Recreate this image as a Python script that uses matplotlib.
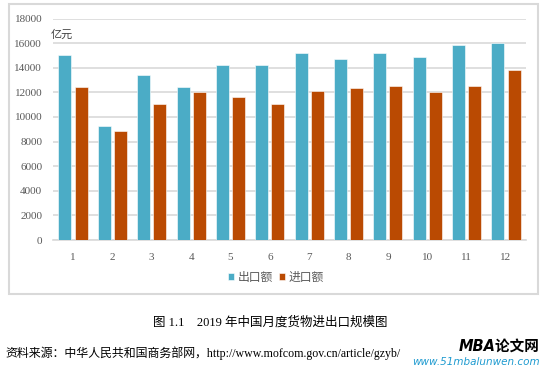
import matplotlib
matplotlib.use("Agg")
import matplotlib.pyplot as plt
from matplotlib.patches import Rectangle
import numpy as np

# 数据 (亿元)
months = ["1", "2", "3", "4", "5", "6", "7", "8", "9", "10", "11", "12"]
exports = [15040, 9270, 13410, 12410, 14230, 14230, 15200, 14710, 15200, 14880, 15850, 16020]
imports = [12410, 8840, 11060, 12030, 11630, 11060, 12110, 12360, 12520, 12030, 12520, 13820]
yticks = [0, 2000, 4000, 6000, 8000, 10000, 12000, 14000, 16000, 18000]

MIX = ["Liberation Serif", "Noto Sans CJK SC"]
CJK = ["Noto Sans CJK SC", "Liberation Serif"]
C_EXP = "#4BACC6"
C_IMP = "#BA4A02"
GREY = "#595959"

W, H = 544, 369
fig = plt.figure(figsize=(W / 100, H / 100), dpi=100)

def px(x0, y0, x1, y1):
    return [x0 / W, 1 - y1 / H, (x1 - x0) / W, (y1 - y0) / H]

# chart frame
frame = Rectangle((9 / W, 1 - 294 / H), (538 - 9) / W, (294 - 4) / H,
                  transform=fig.transFigure, fill=False, ec="#D9D9D9", lw=1.5)
fig.patches.append(frame)

ax = fig.add_axes(px(53.3, 18.6, 525.7, 240))
x = np.arange(1, len(months) + 1)
off, bw = 0.205, 0.33
ax.bar(x - off, exports, bw, color=C_EXP, edgecolor="white", linewidth=0.4, label="出口额", zorder=3)
ax.bar(x + off, imports, bw, color=C_IMP, edgecolor="white", linewidth=0.4, label="进口额", zorder=3)

ax.set_xlim(0.5, 12.5)
ax.set_ylim(0, 18000)
ax.set_yticks(yticks)
ax.set_xticks(x)
ax.set_xticklabels(months)
ax.grid(axis="y", color="#D9D9D9", lw=1.2, zorder=0)
ax.set_axisbelow(True)
for s in ["top", "right", "left"]:
    ax.spines[s].set_visible(False)
ax.spines["bottom"].set_color("#D9D9D9")
ax.spines["bottom"].set_linewidth(1.2)
ax.tick_params(length=0, colors=GREY, labelsize=8)
ax.tick_params(axis="y", pad=8)
ax.tick_params(axis="x", pad=9)
for t in ax.get_xticklabels() + ax.get_yticklabels():
    t.set_family("Liberation Serif")

fig.text(51 / W, 1 - 35 / H, "亿元", family=CJK, fontsize=8, color="#404040", va="center")

leg = fig.legend(loc="center", bbox_to_anchor=(276 / W, 1 - 277 / H), ncol=2, frameon=False,
                 prop={"family": CJK, "size": 8.5}, handlelength=0.55, handleheight=0.55,
                 handletextpad=0.3, columnspacing=0.5, labelcolor=GREY)

fig.text(270 / W, 1 - 322 / H, "图 1.1    2019 年中国月度货物进出口规模图", family=MIX,
         fontsize=9, ha="center", va="center", color="black")
fig.text(5 / W, 1 - 353 / H, "资料来源：中华人民共和国商务部网，http://www.mofcom.gov.cn/article/gzyb/",
         family=MIX, fontsize=8.6, ha="left", va="center", color="black")

# 水印
fig.text(540 / W, 1 - 346 / H, "MBA论文网", family=["DejaVu Sans", "Noto Sans CJK SC"],
         fontsize=10.5, fontweight="bold", style="italic", ha="right", va="center", color="black")
fig.text(540 / W, 1 - 362 / H, "www.51mbalunwen.com", family="DejaVu Sans",
         fontsize=7.5, style="italic", ha="right", va="center", color="#1F9BD0")

fig.savefig("out.png", dpi=100)
